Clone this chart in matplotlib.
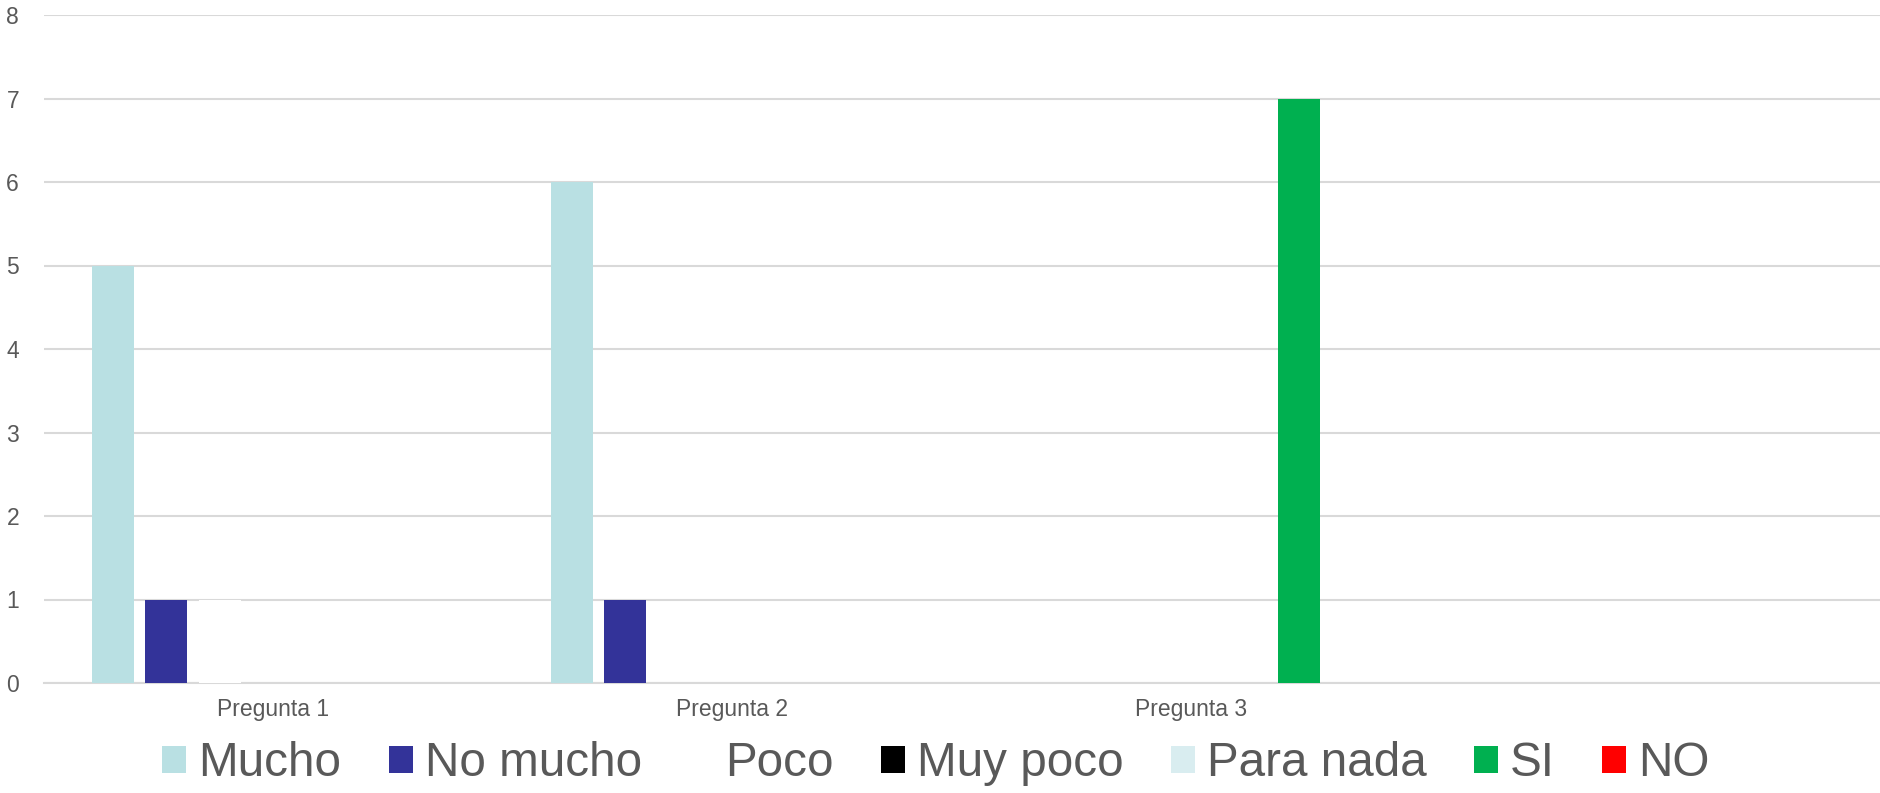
import numpy as np
import matplotlib.pyplot as plt
from matplotlib.patches import Patch

plt.rcParams['font.family'] = ['Liberation Sans', 'DejaVu Sans']

categories = ["Pregunta 1", "Pregunta 2", "Pregunta 3", ""]
series = ["Mucho", "No mucho", "Poco", "Muy poco", "Para nada", "SI", "NO"]
mucho = [5, 6, 0, 0]
no_mucho = [1, 1, 0, 0]
poco = [1, 0, 0, 0]
muy_poco = [0, 0, 0, 0]
para_nada = [0, 0, 0, 0]
si = [0, 0, 7, 0]
no = [0, 0, 0, 0]
values = [mucho, no_mucho, poco, muy_poco, para_nada, si, no]
colors = ["#B9E0E3", "#333399", "#FFFFFF", "#000000", "#D9EDF0", "#00B050", "#FF0000"]

text_col = "#595959"
grid_col = "#D9D9D9"

fig = plt.figure(figsize=(18.8, 7.93), dpi=100)
ax = fig.add_axes([44 / 1880, 1 - 683 / 793, 1 - 44 / 1880, (683 - 15) / 793])

x = np.arange(len(categories))
pitch = 0.1166
width = 0.0915
for i, (vals, c) in enumerate(zip(values, colors)):
    ax.bar(x + (i - 3) * pitch, vals, width, color=c, zorder=3, linewidth=0)

ax.set_xlim(-0.5, len(categories) - 0.5)
ax.set_ylim(0, 8)
ax.set_yticks(range(0, 9))
ax.set_xticks(x)
ax.set_xticklabels(categories)
ax.yaxis.grid(True, color=grid_col, linewidth=1.5, zorder=0)
for s in ["top", "right", "left"]:
    ax.spines[s].set_visible(False)
ax.spines["bottom"].set_color(grid_col)
ax.spines["bottom"].set_linewidth(1.5)
ax.tick_params(axis="both", length=0, labelsize=16.5, colors=text_col)
ax.tick_params(axis="x", pad=11)
ax.tick_params(axis="y", pad=18)

handles = [Patch(facecolor=c, edgecolor="none", label=s) for s, c in zip(series, colors)]
fig.legend(handles=handles, loc="center", bbox_to_anchor=(936 / 1880, 1 - 764 / 793),
           ncol=7, frameon=False, fontsize=34.3, handlelength=0.5, handleheight=0.5,
           handletextpad=0.25, columnspacing=1.0, labelcolor=text_col)

fig.savefig("out.png", dpi=100)
